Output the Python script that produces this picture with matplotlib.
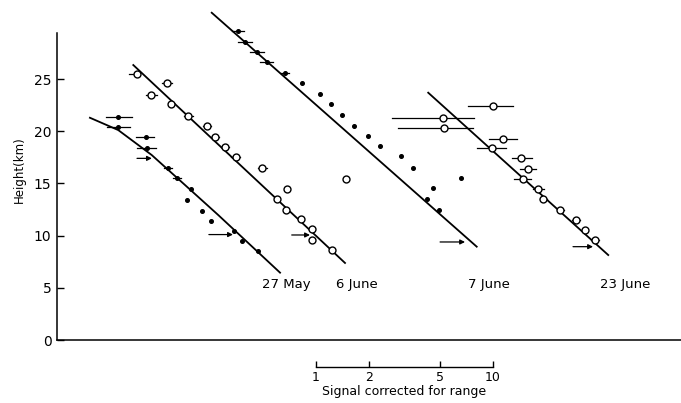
import numpy as np
import matplotlib
matplotlib.use("Agg")
import matplotlib.pyplot as plt

plt.rcParams['font.family'] = ['DejaVu Sans']

# ---------------- data (x in decades of log10 signal, arbitrary offset per profile; y in km)
# 27 May : small filled dots
may27_h = [21.4, 20.4, 19.4, 18.4, 16.5, 15.5, 14.5, 13.4, 12.4, 11.4, 10.4, 9.5, 8.5]
may27_x = [-1.119, -1.119, -0.960, -0.955, -0.836, -0.785, -0.706, -0.729, -0.644, -0.593, -0.463, -0.418, -0.328]
may27_lo = [-1.186, -1.181, -1.017, -1.011, -0.859, -0.808, None, None, None, None, None, None, None]
may27_hi = [-1.040, -1.051, -0.915, -0.904, -0.814, -0.763, None, None, None, None, None, None, None]
may27_arrow_h = [17.4, 10.1]
may27_arrow_x0 = [-1.011, -0.605]
may27_arrow_x1 = [-0.927, -0.469]
may27_line_x = [-1.277, -1.117, -0.928, -0.740, -0.552, -0.203]
may27_line_h = [21.29, 20.11, 17.72, 14.85, 11.97, 6.45]

# 6 June : open circles
jun6_h = [25.5, 24.6, 23.5, 22.6, 21.5, 20.5, 19.4, 18.5, 17.5, 16.5, 14.5, 13.5, 12.5, 11.6, 10.6, 9.6, 8.6, 15.4]
jun6_x = [-1.011, -0.844, -0.932, -0.821, -0.721, -0.616, -0.571, -0.514, -0.454, -0.303,
          -0.166, -0.219, -0.171, -0.086, -0.024, -0.021, 0.092, 0.169]
jun6_lo = [-1.056, -0.870, -0.962, None, -0.745, -0.640, -0.595, -0.538, -0.478, -0.327,
           None, None, None, None, None, None, None, None]
jun6_hi = [-1.011, -0.814, -0.900, None, -0.697, -0.592, -0.547, -0.490, -0.430, -0.279,
           None, None, None, None, None, None, None, None]
jun6_arrow_h = [10.06]
jun6_arrow_x0 = [-0.137]
jun6_arrow_x1 = [-0.034]
jun6_line_x = [-1.032, 0.164]
jun6_line_h = [26.34, 7.38]

# 7 June : small filled dots
jun7_h = [29.6, 28.5, 27.6, 26.6, 25.6, 24.6, 23.6, 22.6, 21.6, 20.5, 19.5, 18.6, 17.6, 16.5, 15.5, 14.6, 13.5, 12.5]
jun7_x = [-0.439, -0.401, -0.335, -0.279, -0.175, -0.077, 0.023, 0.085, 0.145, 0.216, 0.295, 0.362,
          0.479, 0.546, 0.818, 0.663, 0.629, 0.695]
jun7_lo = [-0.474, -0.441, -0.375, -0.314, -0.200, None, None, None, None, None, None, None,
           None, None, None, None, None, None]
jun7_hi = [-0.404, -0.361, -0.295, -0.244, -0.150, None, None, None, None, None, None, None,
           None, None, None, None, None, None]
jun7_arrow_h = [9.39]
jun7_arrow_x0 = [0.701]
jun7_arrow_x1 = [0.842]
jun7_line_x = [-0.589, 0.908]
jun7_line_h = [31.35, 8.94]

# 23 June : circles with horizontal bars
jun23_h = [22.4, 21.3, 20.3, 19.3, 18.4, 17.4, 16.4, 15.4, 14.5, 13.5, 12.5, 11.5, 10.5, 9.6]
jun23_x = [0.998, 0.719, 0.723, 1.055, 0.993, 1.158, 1.196, 1.168, 1.256, 1.284, 1.379, 1.469, 1.520, 1.576]
jun23_lo = [0.860, 0.428, 0.465, 0.977, 0.908, 1.106, 1.153, 1.120, 1.226, 1.264, 1.359, 1.449, None, 1.556]
jun23_hi = [1.115, 0.894, 0.889, 1.134, 1.072, 1.219, 1.241, 1.213, 1.286, 1.304, 1.399, 1.489, None, 1.596]
jun23_arrow_h = [8.94]
jun23_arrow_x0 = [1.452]
jun23_arrow_x1 = [1.565]
jun23_line_x = [0.634, 1.651]
jun23_line_h = [23.69, 8.14]

labels = ['27 May', '6 June', '7 June', '23 June']
label_x = [-0.305, 0.113, 0.859, 1.605]
label_h = 5.3

yticks = [0, 5, 10, 15, 20, 25]
scale_ticks = [1, 2, 5, 10]

# ---------------- figure
fig = plt.figure(figsize=(6.81, 4.03), dpi=100)
ax = fig.add_axes([57 / 681, 63 / 403, 624 / 681, 340 / 403])
ax.set_xlim(-1.463, 2.062)
ax.set_ylim(0, 32.57)
for s in ['top', 'right']:
    ax.spines[s].set_visible(False)
ax.spines['left'].set_bounds(0, 29.4)
ax.spines['left'].set_linewidth(1.1)
ax.spines['bottom'].set_linewidth(1.1)
ax.set_xticks([])
ax.set_yticks(yticks)
ax.set_yticklabels([str(t) for t in yticks], fontsize=10)
ax.tick_params(axis='y', direction='in', length=5, width=1, pad=4)
ax.set_ylabel('Height(km)', fontsize=8.5, labelpad=6)


def draw_profile(xs, hs, lo, hi, ax_h, ax_x0, ax_x1, lx, lh, style):
    for x, h, a, b in zip(xs, hs, lo, hi):
        if a is not None:
            ax.plot([a, b], [h, h], color='black', lw=0.9, clip_on=False, zorder=2)
    if style == 'dot':
        ax.plot(xs, hs, 'o', ms=2.6, color='black', clip_on=False, zorder=3)
    else:
        ax.plot(xs, hs, 'o', ms=5.0, mfc='white', mec='black', mew=1.0, clip_on=False, zorder=3)
    for h, a, b in zip(ax_h, ax_x0, ax_x1):
        ax.annotate('', xy=(b, h), xytext=(a, h),
                    arrowprops=dict(arrowstyle='-|>', color='black', lw=0.9,
                                    mutation_scale=7, shrinkA=0, shrinkB=0),
                    annotation_clip=False)
    ax.plot(lx, lh, color='black', lw=1.3, clip_on=False, zorder=1)


draw_profile(may27_x, may27_h, may27_lo, may27_hi, may27_arrow_h, may27_arrow_x0, may27_arrow_x1,
             may27_line_x, may27_line_h, 'dot')
draw_profile(jun6_x, jun6_h, jun6_lo, jun6_hi, jun6_arrow_h, jun6_arrow_x0, jun6_arrow_x1,
             jun6_line_x, jun6_line_h, 'circle')
draw_profile(jun7_x, jun7_h, jun7_lo, jun7_hi, jun7_arrow_h, jun7_arrow_x0, jun7_arrow_x1,
             jun7_line_x, jun7_line_h, 'dot')
draw_profile(jun23_x, jun23_h, jun23_lo, jun23_hi, jun23_arrow_h, jun23_arrow_x0, jun23_arrow_x1,
             jun23_line_x, jun23_line_h, 'circle')

for t, x in zip(labels, label_x):
    ax.text(x, label_h, t, fontsize=9.5, ha='left', va='center')

# ---------------- scale bar
sax = fig.add_axes([316 / 681, 36.3 / 403, 177 / 681, 0.0001])
sax.set_xscale('log')
sax.set_xlim(1, 10)
sax.set_ylim(0, 1)
for s in ['top', 'right', 'left']:
    sax.spines[s].set_visible(False)
sax.spines['bottom'].set_linewidth(1.0)
sax.set_yticks([])
sax.set_xticks(scale_ticks)
sax.set_xticklabels([str(t) for t in scale_ticks], fontsize=9)
sax.xaxis.set_minor_locator(matplotlib.ticker.NullLocator())
sax.tick_params(axis='x', direction='in', length=4, width=1, pad=3)
sax.set_xlabel('Signal corrected for range', fontsize=9, labelpad=1)

fig.savefig('out.png', dpi=100)
